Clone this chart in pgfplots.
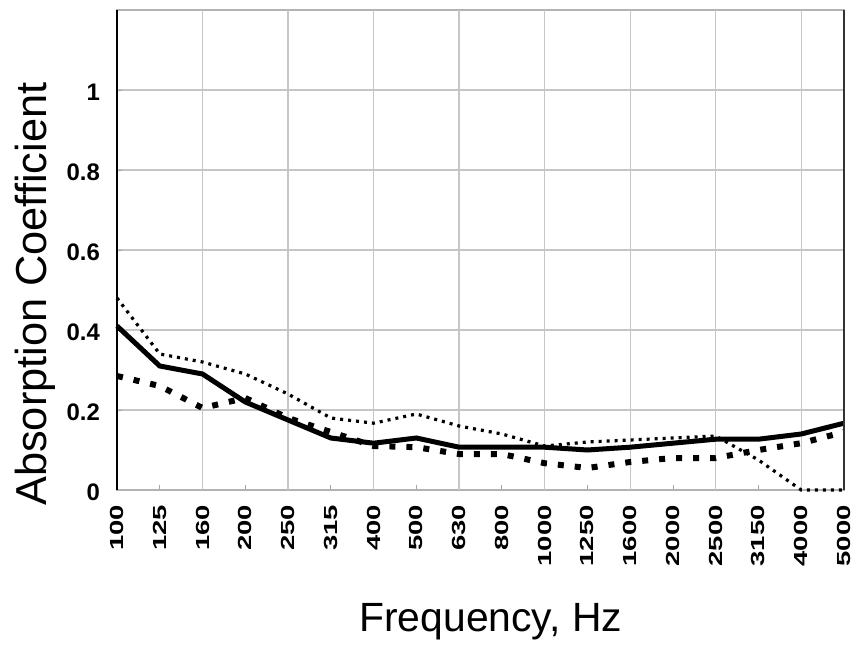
\documentclass[border=0pt]{standalone}
\usepackage{graphicx}
\usepackage{fontspec}
\setmainfont{Liberation Sans}
\usepackage{pgfplots}
\pgfplotsset{compat=1.18}

% fine dotted series, coarse square-dotted series, solid series
\pgfplotstableread{
x solid fine coarse
0  0.41  0.48  0.285
1  0.31  0.34  0.26
2  0.29  0.32  0.205
3  0.22  0.29  0.23
4  0.175 0.24  0.18
5  0.13  0.18  0.145
6  0.117 0.167 0.11
7  0.13  0.19  0.107
8  0.107 0.16  0.09
9  0.107 0.14  0.09
10 0.107 0.11  0.067
11 0.10  0.12  0.055
12 0.107 0.125 0.07
13 0.117 0.13  0.08
14 0.127 0.135 0.08
15 0.127 0.075 0.10
16 0.14  0.0   0.117
17 0.167 0.0   0.145
}\absdata

\newcommand{\wlab}[1]{\scalebox{1.45}[1]{#1}}

\begin{document}
\begin{tikzpicture}
\begin{axis}[
    scale only axis,
    width=727bp,
    height=480bp,
    xmin=0, xmax=17,
    ymin=0, ymax=1.2,
    xtick={0,...,17},
    xticklabels={\wlab{100},\wlab{125},\wlab{160},\wlab{200},\wlab{250},\wlab{315},\wlab{400},\wlab{500},\wlab{630},\wlab{800},\wlab{1000},\wlab{1250},\wlab{1600},\wlab{2000},\wlab{2500},\wlab{3150},\wlab{4000},\wlab{5000}},
    ytick={0,0.2,0.4,0.6,0.8,1},
    extra x ticks={2,4,6,8,10,12,14,16},
    extra x tick labels={},
    extra x tick style={grid=major, major tick length=0pt},
    ymajorgrids=true,
    grid style={gray!45, line width=1.3bp},
    tick pos=left,
    tick align=inside,
    major tick length=5bp,
    tick style={gray!70, line width=0.8bp},
    axis line style={gray!60, line width=1.2bp},
    /pgf/number format/assume math mode=true,
    yticklabel style={font=\fontsize{24}{24}\selectfont\bfseries, inner sep=0pt, anchor=east, yshift=-2bp},
    yticklabel shift=17bp,
    xticklabel style={font=\fontsize{19}{19}\selectfont\bfseries, inner sep=0pt, rotate=90, anchor=east},
    xticklabel shift=15bp,
    xlabel={Frequency, Hz},
    ylabel={Absorption Coefficient},
    xlabel style={font=\fontsize{41}{41}\selectfont, at={(axis description cs:0.514,0)}, anchor=base, yshift=-141bp},
    ylabel style={font=\fontsize{43.5}{43.5}\selectfont, at={(axis description cs:0,0.408)}, anchor=south, yshift=58bp},
    clip=false,
]
\addplot[black, line width=3.2bp, dash pattern=on 3bp off 5bp] table[x=x, y=fine] {\absdata};
\addplot[black, line width=6bp, dash pattern=on 6bp off 11bp] table[x=x, y=coarse] {\absdata};
\addplot[black, line width=5bp] table[x=x, y=solid] {\absdata};
\draw[black, line width=2bp] (rel axis cs:0,0) -- (rel axis cs:0,1);
\draw[black!80, line width=1.6bp] (rel axis cs:1,0) -- (rel axis cs:1,1);
\end{axis}
\pgfresetboundingbox
\path ([shift={(-117bp,-157bp)}]current axis.south west) rectangle ([shift={(12bp,10bp)}]current axis.north east);
\end{tikzpicture}
\end{document}
